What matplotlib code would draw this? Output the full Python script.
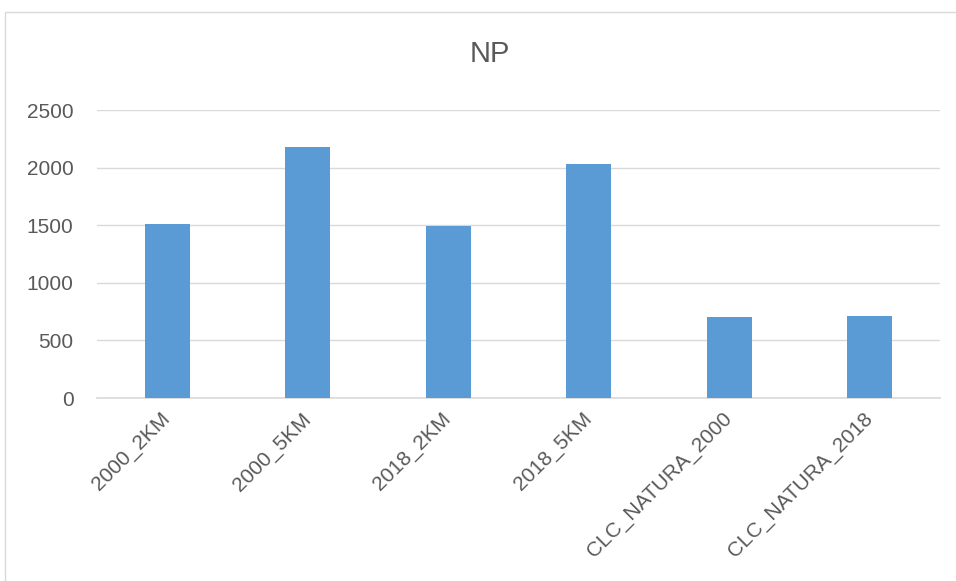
import matplotlib.pyplot as plt
from matplotlib.patches import Rectangle

categories = ['2000_2KM', '2000_5KM', '2018_2KM', '2018_5KM', 'CLC_NATURA_2000', 'CLC_NATURA_2018']
np_values = [1511, 2175, 1494, 2034, 702, 712]
y_ticks = [0, 500, 1000, 1500, 2000, 2500]

W, H = 956, 581
plt.rcParams['font.family'] = ['Liberation Sans', 'DejaVu Sans']

fig = plt.figure(figsize=(W / 100, H / 100), dpi=100)
# chart frame (extends past right and bottom edges like the screenshot)
fig.patches.append(Rectangle((4.5 / W, -0.1), 1.2, (H - 11.5) / H + 0.1,
                             transform=fig.transFigure, fill=False,
                             edgecolor='#D9D9D9', linewidth=1.0))

ax = fig.add_axes([97 / W, 183 / H, (940 - 97) / W, 288 / H])
x = list(range(len(categories)))
ax.bar(x, np_values, width=0.32, color='#5B9BD5', zorder=3)

ax.set_xlim(-0.5, len(categories) - 0.5)
ax.set_ylim(0, 2500)
ax.set_yticks(y_ticks)
ax.set_yticklabels([str(v) for v in y_ticks])
ax.yaxis.grid(True, color='#D9D9D9', linewidth=1.0, zorder=0)
ax.set_axisbelow(True)
for s in ['top', 'right', 'left']:
    ax.spines[s].set_visible(False)
ax.spines['bottom'].set_color('#D9D9D9')
ax.spines['bottom'].set_linewidth(1.2)

ax.tick_params(axis='y', length=0, pad=17, labelsize=15, labelcolor='#595959')
ax.tick_params(axis='x', length=0, pad=13, labelsize=15, labelcolor='#595959')
ax.set_xticks(x)
ax.set_xticklabels(categories, rotation=45, ha='right', va='center',
                   rotation_mode='anchor')

fig.text(489.5 / W, 1 - 54 / H, 'NP', ha='center', va='center',
         fontsize=21, color='#595959')

fig.savefig('out.png', dpi=100)
